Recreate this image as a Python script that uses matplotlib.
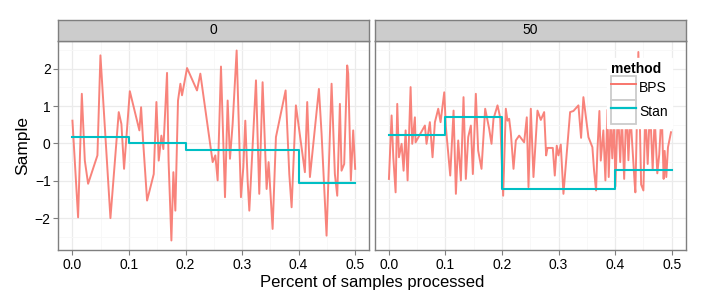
import matplotlib
matplotlib.use('Agg')
import matplotlib.pyplot as plt
from matplotlib.lines import Line2D
from matplotlib.patches import Rectangle
from matplotlib.legend_handler import HandlerTuple
from matplotlib.ticker import MultipleLocator

plt.rcParams['font.family'] = ['Liberation Sans', 'DejaVu Sans']

facets = ['0', '50']

# BPS trace, facet "0"
bps0_x = [0.000, 0.010, 0.0166, 0.0219, 0.0277, 0.0442, 0.0495, 0.0672, 0.0819, 0.0866,
          0.0913, 0.1015, 0.1184, 0.1214, 0.1249, 0.132, 0.1438, 0.1485, 0.1526, 0.1573,
          0.1608, 0.1673, 0.170, 0.175, 0.1785, 0.182, 0.1867, 0.1909, 0.1938, 0.2027,
          0.2203, 0.2262, 0.248, 0.2527, 0.2568, 0.2627, 0.2698, 0.2745, 0.2786, 0.2833,
          0.2904, 0.298, 0.3022, 0.3057, 0.3098, 0.3128, 0.3246, 0.3304, 0.3363, 0.3434,
          0.3469, 0.354, 0.3599, 0.377, 0.3835, 0.3876, 0.3952, 0.4111, 0.4152, 0.42,
          0.4359, 0.4406, 0.4494, 0.4583, 0.4641, 0.4683, 0.473, 0.4759, 0.4806, 0.4859,
          0.4877, 0.4924, 0.4965, 0.50]
bps0_y = [0.61, -1.98, 1.33, -0.46, -1.08, -0.32, 2.36, -2.00, 0.84, 0.52,
          -0.68, 1.40, 0.35, 0.97, 0.08, -1.53, -0.82, 1.11, -0.46, 0.21,
          -0.15, 1.89, -0.46, -2.60, -0.77, -1.80, 1.15, 1.60, 1.29, 2.02,
          1.42, 1.87, -0.50, -0.32, -0.99, 2.06, -1.44, 1.15, -0.41, 0.52,
          2.49, -1.44, -0.64, 0.61, -0.99, -1.80, 1.69, -1.35, 1.64, -1.22,
          -0.50, -2.29, 0.17, 1.42, -0.82, -1.71, 1.02, -0.77, 1.11, -0.90,
          1.46, 0.26, -2.47, 1.60, -0.82, -1.40, 1.06, -0.73, -0.55, 2.09,
          1.87, -0.99, 0.35, -0.68]

# BPS trace, facet "50"
bps50_x = [0.0, 0.0047, 0.0077, 0.0118, 0.0147, 0.0177, 0.0224, 0.0259, 0.0295, 0.033,
           0.0383, 0.0412, 0.0459, 0.0471, 0.0636, 0.0665, 0.0724, 0.0771, 0.0813, 0.0872,
           0.0913, 0.0978, 0.1007, 0.1084, 0.1143, 0.1184, 0.1225, 0.1272, 0.1319, 0.136,
           0.1402, 0.1449, 0.1484, 0.1537, 0.1578, 0.1637, 0.1702, 0.1773, 0.1814, 0.1849,
           0.192, 0.1967, 0.1991, 0.202, 0.2067, 0.2097, 0.2126, 0.2155, 0.2203, 0.2244,
           0.2303, 0.2391, 0.2438, 0.2468, 0.2509, 0.2556, 0.2627, 0.2686, 0.2745, 0.278,
           0.2804, 0.2898, 0.2933, 0.2968, 0.2998, 0.3039, 0.3086, 0.3204, 0.3263, 0.3351,
           0.3398, 0.3439, 0.3528, 0.3598, 0.3628, 0.3663, 0.3687, 0.3722, 0.3746, 0.3792,
           0.3828, 0.3864, 0.3887, 0.392, 0.395, 0.398, 0.4005, 0.405, 0.409, 0.412,
           0.416, 0.420, 0.4235, 0.427, 0.431, 0.4345, 0.4358, 0.4411, 0.446, 0.45,
           0.4535, 0.4576, 0.4617, 0.4664, 0.470, 0.4746, 0.478, 0.4823, 0.4858, 0.4876,
           0.4905, 0.4935, 0.4988]
bps50_y = [-0.95, 0.75, -0.37, -1.31, 1.06, -0.37, -0.01, -0.73, 0.35, -0.99,
           1.51, -0.01, 0.70, 0.03, 0.48, -0.01, 0.57, -0.37, 0.57, 0.93,
           0.57, 1.37, 0.44, -0.86, 0.88, -1.35, 0.08, -0.99, 1.24, -0.95,
           0.17, 0.48, -0.82, 1.33, -0.19, -0.68, 0.93, 0.39, -0.01, 0.66,
           1.02, 0.70, -0.32, -1.40, 0.93, 0.61, 0.66, 0.30, -0.68, 0.08,
           0.21, 0.03, 0.70, -1.17, 0.93, -0.90, 0.88, 0.63, 0.84, -0.32,
           -0.12, -0.12, -0.86, -0.06, -0.32, -0.03, -1.35, 0.84, 0.87, 1.02,
           0.15, 1.24, 0.17, -0.10, -0.73, -1.26, -0.19, 0.87, -0.46, 0.35,
           -0.99, 0.90, -0.90, 0.60, -0.40, 0.80, -1.15, 1.00, -0.50, 0.70,
           -0.95, 1.10, -0.45, 0.80, -0.20, -1.05, -1.31, 2.45, -1.10, -1.26,
           0.90, -0.55, 1.00, -0.70, 0.70, -0.80, -0.30, 0.90, -0.95, -0.20,
           -0.90, -0.10, 0.30]

# Stan: one value per block of samples
stan_breaks = [0.0, 0.1, 0.2, 0.4, 0.5]
stan0 = [0.18, 0.02, -0.18, -1.05]
stan50 = [0.22, 0.72, -1.21, -0.71]

BPS_COL = '#F8766D'
STAN_COL = '#00BFC4'
GREY50 = '#7F7F7F'


def style_panel(ax, ylim, show_y):
  ax.set_xlim(-0.025, 0.525)
  ax.set_ylim(*ylim)
  ax.xaxis.set_minor_locator(MultipleLocator(0.05))
  ax.yaxis.set_minor_locator(MultipleLocator(0.5))
  ax.set_xticks([0.0, 0.1, 0.2, 0.3, 0.4, 0.5])
  ax.set_xticklabels(['0.0', '0.1', '0.2', '0.3', '0.4', '0.5'])
  ax.set_yticks([-2, -1, 0, 1, 2])
  ax.grid(which='major', color='#EBEBEB', lw=0.9)
  ax.grid(which='minor', color='#F7F7F7', lw=0.6)
  ax.set_axisbelow(True)
  for s in ax.spines.values():
    s.set_color(GREY50)
    s.set_linewidth(1.0)
  ax.tick_params(which='major', direction='out', length=3.5, width=0.8,
                 color=GREY50, labelsize=10, labelcolor='black', pad=2)
  ax.tick_params(which='minor', length=0)
  if not show_y:
    ax.tick_params(axis='y', which='both', length=0, labelleft=False)
  else:
    ax.set_yticklabels(['\u22122', '\u22121', '0', '1', '2'])


def add_strip(fig, pos, label):
  x0, y0, w, h = pos
  sax = fig.add_axes([x0, y0 + h, w, 21 / 303])
  sax.set_facecolor('#CCCCCC')
  sax.set_xticks([])
  sax.set_yticks([])
  for s in sax.spines.values():
    s.set_color(GREY50)
    s.set_linewidth(1.0)
  sax.text(0.5, 0.5, label, ha='center', va='center', fontsize=10,
           transform=sax.transAxes)


fig = plt.figure(figsize=(7.06, 3.03), dpi=100)
pw = 311 / 706
ph = 209 / 303
py = 53 / 303
positions = [(58.3 / 706, py, pw, ph), (374.8 / 706, py, pw, ph)]

ally = bps0_y + bps50_y + stan0 + stan50
lo, hi = min(ally), max(ally)
pad = 0.05 * (hi - lo)
ylim = (lo - pad, hi + pad)

series = [(bps0_x, bps0_y, stan0), (bps50_x, bps50_y, stan50)]
axes = []
for i, (pos, (bx, by, st)) in enumerate(zip(positions, series)):
  ax = fig.add_axes(pos)
  ax.plot(bx, by, color=BPS_COL, lw=1.4, alpha=0.9)
  ax.plot(stan_breaks, st + [st[-1]], drawstyle='steps-post', color=STAN_COL, lw=1.5)
  style_panel(ax, ylim, i == 0)
  add_strip(fig, pos, facets[i])
  axes.append(ax)

axes[0].set_ylabel('Sample', fontsize=12.5, labelpad=3)
fig.text(372 / 706, 1 - 283 / 303, 'Percent of samples processed', ha='center',
         va='center', fontsize=12)

key = dict(facecolor='white', edgecolor='#CCCCCC', lw=1.3)
handles = [(Rectangle((0, 0), 1, 1, **key), Line2D([], [], color=BPS_COL, lw=1.4)),
           (Rectangle((0, 0), 1, 1, **key), Line2D([], [], color=STAN_COL, lw=1.6))]
leg = axes[1].legend(handles, ['BPS', 'Stan'], title='method',
                     handler_map={tuple: HandlerTuple(ndivide=1)},
                     loc='upper right', bbox_to_anchor=(0.955, 0.92),
                     fontsize=10, title_fontproperties={'weight': 'bold', 'size': 10},
                     handlelength=1.75, handleheight=2.3, labelspacing=0.0,
                     handletextpad=0.25, borderpad=0.3, borderaxespad=0,
                     frameon=True, fancybox=False, alignment='left')
leg.get_frame().set_facecolor('white')
leg.get_frame().set_edgecolor('white')
leg.get_frame().set_alpha(1.0)
leg.set_zorder(10)

fig.savefig('out.png', dpi=100)
